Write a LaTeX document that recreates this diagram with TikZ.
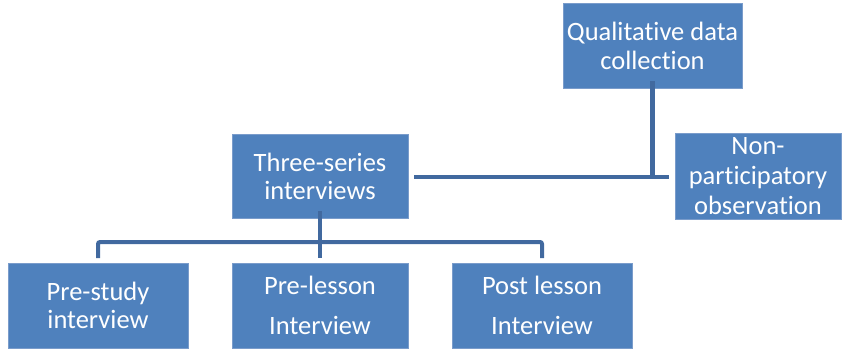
\documentclass[tikz,border=0pt]{standalone}
\usepackage{fontspec}
\setmainfont[Ligatures={NoCommon,NoDiscretionary,NoRare}]{Carlito}
\definecolor{boxfill}{HTML}{4F81BD}
\definecolor{boxedge}{HTML}{7A9CCB}
\definecolor{linec}{HTML}{41699F}
\begin{document}
\begin{tikzpicture}[x=1pt,y=-1pt,
  box/.style={draw=boxedge,line width=0.8pt,fill=boxfill,text=white,align=center,
    font=\fontsize{26.5}{29}\selectfont,inner sep=0pt},
  conn/.style={draw=linec,line width=4.5pt},
  bracket/.style={draw=linec,line width=4pt,rounded corners=2pt}]
\useasboundingbox (0,0) rectangle (842,348);
\node[box,minimum width=179pt,minimum height=85pt] (qual) at (652.5,45.5) {Qualitative data\\collection};
\node[box,minimum width=166pt,minimum height=86pt,font=\fontsize{26.5}{30}\selectfont] (nonp) at (758,176) {Non-\\participatory\\observation};
\node[box,minimum width=176pt,minimum height=84pt,font=\fontsize{26.5}{28}\selectfont] (three) at (320,176) {Three-series\\interviews};
\node[box,minimum width=180pt,minimum height=85pt,font=\fontsize{26.5}{28}\selectfont] (prestudy) at (98,305.5) {Pre-study\\interview};
\node[box,minimum width=176pt,minimum height=85pt,font=\fontsize{26.5}{40}\selectfont] (prelesson) at (320,305.5) {Pre-lesson\\Interview};
\node[box,minimum width=180pt,minimum height=85pt,font=\fontsize{26.5}{40}\selectfont] (postlesson) at (542,305.5) {Post lesson\\Interview};
\coordinate (qtop) at ([yshift=7pt]qual.south);
\coordinate (qj) at (qual.south |- 0,177);
\coordinate (tr) at ([xshift=6pt]three.east);
\coordinate (nj) at ([xshift=-6pt]nonp.west |- 0,177);
\draw[conn] (qtop) -- (qj);
\draw[conn] (tr |- 0,177) -- (nj);
\coordinate (tb) at ([yshift=7pt]three.south);
\draw[conn] (tb) -- (320,258);
\draw[bracket] (prestudy.north |- 0,258) -- (prestudy.north |- 0,242) -- (postlesson.north |- 0,242) -- (postlesson.north |- 0,258);
\end{tikzpicture}
\end{document}
